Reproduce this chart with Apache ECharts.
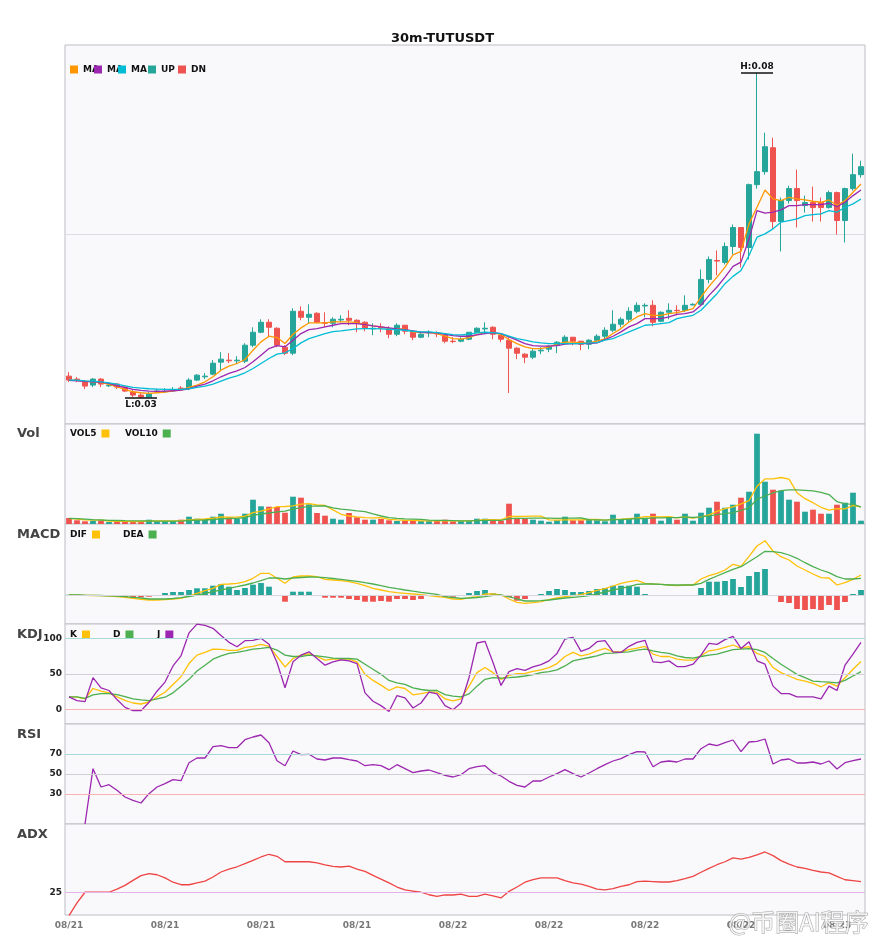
<!DOCTYPE html>
<html>
<head>
<meta charset="UTF-8">
<title>30m-TUTUSDT</title>
<script src="https://cdn.jsdelivr.net/npm/echarts@6.0.0/dist/echarts.min.js"></script>
<style>
  html, body { margin: 0; padding: 0; background: #fff; }
  #main { width: 885px; height: 950px; }
</style>
</head>
<body>
<div id="main"></div>
<script>
// ---- price data (30m candles) ----
var openP = [
  0.0357, 0.03525, 0.0348, 0.03435, 0.03525, 0.03425, 0.0345, 0.03405, 0.0333, 0.03285,
  0.03255, 0.03335, 0.03335, 0.0335, 0.0339, 0.0339, 0.0351, 0.0356, 0.036, 0.0378,
  0.0381, 0.038, 0.03795, 0.04035, 0.0423, 0.0438, 0.0429, 0.04005, 0.03915, 0.04545,
  0.04455, 0.04515, 0.04375, 0.04365, 0.04415, 0.0444, 0.0441, 0.0438, 0.0428, 0.04305,
  0.04275, 0.042, 0.04335, 0.0423, 0.04155, 0.0422, 0.04215, 0.04185, 0.04095, 0.04095,
  0.04125, 0.0423, 0.0428, 0.04305, 0.04185, 0.0411, 0.0399, 0.039, 0.03855, 0.0395,
  0.03975, 0.04035, 0.0408, 0.04155, 0.04095, 0.0405, 0.0411, 0.0417, 0.0426, 0.0435,
  0.04425, 0.04545, 0.04625, 0.04635, 0.04395, 0.0453, 0.0456, 0.0456, 0.0464, 0.0465,
  0.05025, 0.0531, 0.0528, 0.0552, 0.05805, 0.05505, 0.0645, 0.06645, 0.07005, 0.05895,
  0.0621, 0.0639, 0.06135, 0.0618, 0.0618, 0.06105, 0.0633, 0.0591, 0.0639, 0.066
];
var closeP = [
  0.0351, 0.0351, 0.0342, 0.03525, 0.0345, 0.03435, 0.03405, 0.03345, 0.03285, 0.03255,
  0.033, 0.03345, 0.0334, 0.0336, 0.0338, 0.0351, 0.03585, 0.0357, 0.03765, 0.03825,
  0.038, 0.0381, 0.04035, 0.0423, 0.0438, 0.04305, 0.04035, 0.03915, 0.04545, 0.04455,
  0.045, 0.0438, 0.04365, 0.04425, 0.04425, 0.0441, 0.04365, 0.0429, 0.0429, 0.04295,
  0.042, 0.04335, 0.04245, 0.04155, 0.042, 0.0423, 0.04205, 0.04095, 0.0409, 0.04125,
  0.0423, 0.0429, 0.0429, 0.042, 0.04125, 0.0399, 0.03915, 0.03855, 0.03945, 0.0396,
  0.0402, 0.0408, 0.04155, 0.04095, 0.0405, 0.0411, 0.0417, 0.0426, 0.0435, 0.04425,
  0.04545, 0.04635, 0.04635, 0.0438, 0.0453, 0.0456, 0.04555, 0.04635, 0.0465, 0.05025,
  0.05325, 0.053, 0.0552, 0.05805, 0.05505, 0.0645, 0.06645, 0.0702, 0.05895, 0.0621,
  0.0639, 0.0621, 0.0618, 0.06105, 0.06105, 0.0633, 0.0591, 0.0639, 0.066, 0.0672
];
var lowP = [
  0.0348, 0.0348, 0.03375, 0.03405, 0.03405, 0.03405, 0.03375, 0.0333, 0.03255, 0.0324,
  0.03255, 0.03315, 0.03315, 0.03335, 0.0336, 0.0336, 0.03495, 0.03525, 0.03585, 0.0366,
  0.03765, 0.0375, 0.03765, 0.04005, 0.04215, 0.04155, 0.04005, 0.03885, 0.03885, 0.0441,
  0.04365, 0.04365, 0.04305, 0.04305, 0.0438, 0.04335, 0.0423, 0.04245, 0.04185, 0.0423,
  0.0414, 0.0417, 0.042, 0.0411, 0.0414, 0.04155, 0.04155, 0.04065, 0.04065, 0.0408,
  0.0411, 0.04215, 0.04215, 0.04125, 0.0408, 0.03315, 0.03825, 0.03765, 0.03825, 0.039,
  0.0393, 0.03915, 0.0405, 0.04035, 0.0396, 0.03975, 0.0408, 0.0411, 0.0423, 0.04305,
  0.0438, 0.04515, 0.04455, 0.0432, 0.0438, 0.04425, 0.04485, 0.0453, 0.04635, 0.04635,
  0.04965, 0.05085, 0.0525, 0.054, 0.05205, 0.05325, 0.0639, 0.066, 0.0579, 0.05445,
  0.06165, 0.05805, 0.0603, 0.05895, 0.05895, 0.0609, 0.057, 0.0558, 0.0636, 0.06555
];
var highP = [
  0.0363, 0.03555, 0.0351, 0.0354, 0.0354, 0.0348, 0.03465, 0.0342, 0.0336, 0.03315,
  0.0333, 0.03375, 0.0339, 0.03405, 0.0342, 0.0354, 0.036, 0.03615, 0.0381, 0.0393,
  0.03915, 0.0387, 0.04065, 0.04305, 0.04425, 0.04425, 0.04305, 0.04035, 0.0459, 0.0462,
  0.0465, 0.0453, 0.0453, 0.04455, 0.04485, 0.0456, 0.04425, 0.04395, 0.04365, 0.04365,
  0.0432, 0.04365, 0.04335, 0.0426, 0.0423, 0.0426, 0.04245, 0.042, 0.04155, 0.04155,
  0.0423, 0.04305, 0.0438, 0.0432, 0.04215, 0.04155, 0.04005, 0.03915, 0.03975, 0.04005,
  0.04035, 0.04095, 0.04185, 0.04155, 0.04095, 0.04125, 0.042, 0.04305, 0.0456, 0.04455,
  0.04605, 0.0468, 0.04665, 0.0471, 0.04545, 0.04665, 0.04635, 0.04785, 0.04665, 0.05175,
  0.0537, 0.0546, 0.0558, 0.0585, 0.05805, 0.06465, 0.0813, 0.0723, 0.07155, 0.06255,
  0.06435, 0.06675, 0.06285, 0.0642, 0.06255, 0.0636, 0.06345, 0.06405, 0.06915, 0.0681
];
var ma5 = [
  0.0351, 0.03505, 0.03495, 0.03485, 0.03475, 0.03445, 0.0341, 0.0337, 0.03335, 0.0332,
  0.0331, 0.0332, 0.0333, 0.0335, 0.0336, 0.034, 0.03435, 0.03485, 0.0356, 0.0366,
  0.0372, 0.0376, 0.0382, 0.0396, 0.04085, 0.0417, 0.0415, 0.0406, 0.042, 0.04295,
  0.0437, 0.0437, 0.0437, 0.04385, 0.04385, 0.04385, 0.04375, 0.04345, 0.04325, 0.0431,
  0.04285, 0.0428, 0.04275, 0.04235, 0.04225, 0.04225, 0.0421, 0.0417, 0.04135, 0.04125,
  0.0415, 0.04195, 0.04225, 0.04225, 0.04195, 0.0412, 0.0406, 0.0401, 0.03985, 0.03985,
  0.0401, 0.0405, 0.0408, 0.0408, 0.0407, 0.0407, 0.04095, 0.0413, 0.0421, 0.04285,
  0.04385, 0.0446, 0.0451, 0.04485, 0.04485, 0.0451, 0.04525, 0.0455, 0.04585, 0.0476,
  0.0492, 0.0506, 0.0521, 0.05395, 0.05445, 0.0586, 0.0611, 0.0637, 0.06235, 0.0621,
  0.0626, 0.06235, 0.0622, 0.062, 0.06185, 0.0622, 0.06135, 0.0621, 0.06335, 0.0646
];
var ma10 = [
  0.03505, 0.035, 0.0349, 0.03485, 0.0348, 0.0346, 0.03425, 0.034, 0.0337, 0.03355,
  0.03345, 0.0334, 0.03345, 0.0335, 0.0336, 0.0338, 0.0342, 0.0345, 0.035, 0.0356,
  0.0361, 0.0365, 0.037, 0.03785, 0.03885, 0.03985, 0.0403, 0.0401, 0.0411, 0.0421,
  0.0427, 0.04285, 0.0431, 0.04335, 0.0436, 0.0436, 0.0436, 0.04345, 0.04325, 0.0431,
  0.04295, 0.0428, 0.0427, 0.0425, 0.0423, 0.04225, 0.0422, 0.042, 0.0418, 0.0417,
  0.0417, 0.0419, 0.0421, 0.04225, 0.0421, 0.0416, 0.0411, 0.0406, 0.0403, 0.0402,
  0.0402, 0.0403, 0.0405, 0.0406, 0.0406, 0.0406, 0.0407, 0.0412, 0.0417, 0.04235,
  0.0431, 0.0436, 0.04435, 0.04435, 0.04435, 0.0446, 0.045, 0.0451, 0.04535, 0.04635,
  0.04785, 0.0491, 0.0506, 0.0522, 0.05285, 0.05635, 0.0606, 0.0602, 0.06035, 0.0607,
  0.06135, 0.06135, 0.0615, 0.0615, 0.0615, 0.0617, 0.0612, 0.06185, 0.06285, 0.0637
];
var ma20 = [
  0.0351, 0.0351, 0.035, 0.03495, 0.03485, 0.0347, 0.0345, 0.03425, 0.034, 0.0339,
  0.0338, 0.03375, 0.0337, 0.0337, 0.0337, 0.0338, 0.034, 0.0342, 0.0345, 0.03495,
  0.0354, 0.03575, 0.0362, 0.03685, 0.0376, 0.03835, 0.039, 0.0392, 0.03985, 0.0407,
  0.04135, 0.0417, 0.0421, 0.0424, 0.0425, 0.04265, 0.0428, 0.04285, 0.04285, 0.0428,
  0.04275, 0.0427, 0.0426, 0.04245, 0.04235, 0.04235, 0.04225, 0.0421, 0.04195, 0.0419,
  0.042, 0.0422, 0.0423, 0.04225, 0.0421, 0.0417, 0.04135, 0.0411, 0.04085, 0.0407,
  0.0406, 0.0406, 0.0406, 0.0406, 0.0406, 0.0407, 0.04075, 0.0411, 0.04135, 0.04185,
  0.04235, 0.04285, 0.04335, 0.04345, 0.0436, 0.04375, 0.04435, 0.0446, 0.04485, 0.0456,
  0.04685, 0.0481, 0.0496, 0.0507, 0.0516, 0.05385, 0.0566, 0.0571, 0.05785, 0.05885,
  0.0591, 0.05935, 0.05985, 0.06, 0.0601, 0.0606, 0.06035, 0.0611, 0.0616, 0.06235
];

// ---- volume ----
var volume = [
  6, 3.7, 2.7, 3.3, 3.3, 2, 2.3, 2.7, 2.3, 3,
  4.3, 2.7, 2.7, 3, 4.3, 7.3, 5.3, 5, 7.3, 10.3,
  6.7, 5.3, 10.3, 24.3, 17.7, 17.3, 17, 11.3, 27.3, 26.3,
  19.7, 11, 8.3, 5.3, 4.3, 11, 6.7, 4.3, 4.3, 5,
  3.7, 3, 3, 3.3, 3, 3, 3, 4.3, 2.7, 3,
  3, 5.3, 5.3, 3.3, 3.3, 20.3, 5, 6, 4.3, 3.3,
  2.3, 3.7, 7.3, 3.7, 3.7, 4.3, 3.7, 2.7, 9.3, 4.3,
  6, 10.3, 6.3, 10.3, 3.3, 6.7, 4.3, 10.3, 3.3, 11.3,
  16.3, 22.3, 16.3, 19.3, 26.3, 32.3, 90.3, 42.3, 34.3, 33.3,
  24.3, 22.3, 12.3, 14.3, 10.3, 10.3, 19.3, 21.3, 31.3, 3.3
];
var vol5 = [
  5.7, 4.9, 4.2, 3.9, 3.8, 3.0, 2.7, 2.7, 2.5, 2.5,
  2.9, 3.0, 3.0, 3.1, 3.4, 4.0, 4.5, 5.0, 5.8, 7.0,
  6.9, 6.9, 7.9, 11.4, 12.9, 15.0, 17.3, 17.5, 18.1, 19.8,
  20.3, 19.1, 18.5, 14.1, 9.7, 8.0, 7.1, 6.3, 6.1, 6.3,
  4.7, 4.1, 3.7, 3.6, 3.2, 3.1, 3.1, 3.3, 3.2, 3.2,
  3.2, 3.7, 4.3, 4.3, 4.2, 7.5, 7.5, 7.6, 7.8, 7.8,
  4.2, 3.9, 4.2, 4.1, 4.1, 4.5, 4.5, 3.8, 4.7, 4.9,
  5.4, 6.1, 7.3, 7.4, 7.2, 7.4, 6.2, 7.0, 5.8, 7.2,
  9.1, 12.7, 15.4, 17.1, 20.1, 23.3, 37.7, 45.1, 45.1, 46.5,
  44.9, 31.3, 25.3, 21.3, 16.7, 13.9, 15.3, 15.1, 18.5, 17.1
];
var vol10 = [
  5.7, 5.3, 4.8, 4.3, 4.0, 3.7, 3.5, 3.3, 3.2, 3.1,
  3.0, 2.9, 2.9, 2.8, 2.9, 3.5, 3.8, 4.0, 4.5, 5.2,
  5.5, 5.7, 6.5, 8.6, 10.0, 11.0, 12.1, 12.8, 14.8, 16.4,
  17.7, 18.2, 18.0, 16.1, 14.8, 14.2, 13.1, 12.4, 10.1, 8.0,
  6.4, 5.6, 5.1, 4.9, 4.7, 3.9, 3.6, 3.6, 3.4, 3.2,
  3.1, 3.4, 3.6, 3.6, 3.6, 5.4, 5.6, 5.7, 5.9, 5.9,
  5.8, 5.7, 5.9, 5.9, 6.0, 4.4, 4.2, 3.9, 4.4, 4.5,
  4.9, 5.5, 5.4, 6.1, 6.1, 6.3, 6.4, 7.1, 6.5, 7.2,
  8.2, 9.4, 10.4, 11.3, 13.6, 16.2, 24.8, 28.0, 31.1, 33.3,
  34.1, 34.1, 33.7, 33.2, 31.6, 29.4, 22.3, 20.2, 19.9, 16.9
];

// ---- MACD ----
var macdHist = [
  0.3, 0.2, 0, -0.3, -0.5, -1, -1, -2, -2.3, -2.3,
  -1.7, -0.5, 2, 3, 3, 5, 6.7, 6.7, 9.3, 10.7,
  8.3, 5, 7, 10.3, 12, 8.3, 0, -6.7, 3.3, 3.3,
  3.3, 0, -2.7, -2.7, -2.7, -4, -5, -6.7, -6.7, -6,
  -6.7, -4, -4, -5, -4, -0.7, -1.7, -1.7, -1.7, -0.7,
  2, 4, 5, 1.7, 0, -2.3, -5.7, -4, -1, 1,
  4, 6, 5, 3, 3, 4, 6, 7, 9.3, 9.3,
  9.3, 8.3, 1, 0, 0, 0, -0.7, 0, 0, 7,
  13.3, 13.3, 14, 16, 8, 19, 23, 26, 0, -7,
  -8, -14, -15, -14, -15, -10, -15, -7, 1, 5
];
var dif = [
  0, 0, -0.3, -0.5, -0.7, -1, -1.7, -2.3, -3.3, -4.3,
  -5, -5, -4.7, -4, -3.3, -1, 1.7, 4.3, 6.7, 10.7,
  11, 11.7, 13.3, 16.7, 21.7, 21.7, 16.7, 11.7, 18, 19,
  19, 18.3, 15.7, 15, 14.3, 13.3, 11.7, 9.3, 6.7, 5,
  3.3, 2.3, 1.7, 1, 0.3, -0.7, -1.7, -2.3, -4, -4.3,
  -2.7, -1.7, 1, 1, 0, -4, -7.3, -8.3, -7.7, -6.7,
  -4.7, -3, -1.7, -0.7, 0.3, 2.3, 4.7, 6.3, 9, 11.7,
  13.3, 14.7, 11.7, 11, 10.7, 10, 9.3, 10, 10, 16,
  19.3, 21.7, 25, 30.7, 28.7, 38.7, 49, 54.3, 44, 38.3,
  35, 29, 25, 21, 17.3, 17, 10, 12.3, 15.7, 20
];
var dea = [
  0, 0, -0.2, -0.3, -0.5, -0.8, -1.2, -1.7, -2.3, -3,
  -4, -4, -4, -3.5, -2.7, -1.5, 0, 1.5, 3.3, 5,
  6.7, 8.3, 10, 12, 14.3, 17, 17, 16, 17, 17.5,
  18, 17.8, 17.3, 16.5, 15.7, 14.7, 13.7, 12.3, 11, 9.3,
  7.7, 6.3, 5, 3.8, 2.7, 1.7, 0.7, -1.7, -2.5, -3.3,
  -3, -2.5, -1.7, -0.3, 0, -1.7, -4, -6, -6, -5.7,
  -5, -4, -3, -2.3, -1.7, -0.7, 1, 3, 5, 6.7,
  8.3, 10.7, 11, 11, 10.7, 10, 10, 10, 10, 11.7,
  15.7, 19, 22.3, 25.7, 28.3, 33.3, 38.3, 43.7, 43.3, 42.3,
  40, 36.7, 32.3, 28.3, 25, 22.3, 18.3, 16, 16, 16.7
];

// ---- KDJ ----
var kLine = [
  17.9, 17.5, 15.1, 29.7, 25.9, 23.6, 17.9, 13.2, 9.4, 8,
  10.8, 17.9, 24.5, 35.4, 46.2, 64.6, 76.4, 80.2, 84.9, 84.4,
  83, 83, 87.3, 88.7, 91.5, 88.7, 74.5, 59.9, 71.7, 76.4,
  78.3, 74.5, 69.3, 70.8, 70.8, 70.8, 67, 49.5, 41, 34.4,
  26.9, 32.1, 29.7, 20.8, 22.6, 24.5, 24.5, 15.1, 12.3, 15.1,
  33, 51.9, 59, 51.9, 42.5, 48.1, 50.5, 50.9, 53.8, 55.7,
  59, 64.6, 74.5, 80.2, 75.5, 77.8, 82.5, 85.8, 81.1, 81.1,
  84, 86.3, 88.7, 77.8, 74.5, 74.5, 70.8, 69.3, 69.3, 75.5,
  82.5, 84, 87.3, 90.6, 85.8, 88.2, 78.8, 74.5, 59, 51.9,
  47.2, 42.5, 40.1, 36.8, 32.1, 37.7, 33, 44.8, 56.6, 67.5
];
var dLine = [
  17.9, 17.9, 16, 20.8, 22.6, 22.6, 21.2, 18.4, 15.1, 13.7,
  12.7, 15.1, 17.5, 23.6, 33, 42.5, 54.2, 62.3, 70.8, 75.5,
  78.8, 80.2, 82.5, 84.9, 85.8, 87.3, 83.5, 76.4, 74.5, 74.5,
  76.4, 75.5, 74, 72.2, 71.7, 71.7, 70.8, 63.7, 56.6, 49.5,
  41, 37.7, 35.4, 30.7, 28.3, 26.9, 26.9, 21.2, 18.9, 17.9,
  22.2, 33, 42.5, 44.8, 44.3, 44.8, 45.8, 47.2, 49.1, 51.9,
  53.3, 55.7, 61.3, 68.4, 70.8, 73.1, 75.5, 78.8, 79.2, 80.2,
  81.1, 83.5, 84.9, 82.5, 80.2, 78.8, 75.5, 73.1, 72.2, 74.5,
  76.4, 77.8, 81.1, 84, 84.9, 85.4, 84, 80.2, 71.7, 63.7,
  56.6, 49.5, 44.8, 40.1, 39.2, 38.7, 37.7, 41, 47.2, 53.3
];
var jLine = [
  17.9, 12.7, 11.3, 44.8, 30.7, 26.9, 14.2, 3.3, -1.4, -1.4,
  10.4, 25.9, 38.7, 61.3, 75.5, 107.5, 119.8, 118, 114, 103.8,
  94.3, 88.2, 96.7, 97.2, 100, 91.5, 66, 30.7, 67, 76.4,
  81.1, 71.7, 62.3, 67, 69.8, 68.4, 64.6, 23.6, 11.8, 5.7,
  -2.4, 19.8, 16.5, 2.4, 9.4, 24.5, 22.2, 5.7, 0, 9.4,
  44.8, 93.4, 95.8, 66, 34, 53.3, 57.5, 55.2, 59.9, 63.2,
  68.4, 78.8, 99, 101.4, 81.6, 85.8, 95.3, 96.7, 81.1, 80.2,
  88.7, 94.3, 97.2, 67, 66, 68.4, 60.4, 60.4, 63.7, 76.4,
  92.9, 91.5, 98.1, 102.8, 85.8, 95.3, 68.4, 63.7, 33, 22.6,
  22.6, 17.9, 17.9, 17.9, 15.1, 33, 26.9, 62.3, 77.8, 94.3
];

// ---- RSI / ADX ----
var rsi = [
  null, null, 0, 55.3, 37, 39.3, 33.7, 27, 23.7, 21,
  30.3, 37, 40.3, 44.3, 43.3, 61.3, 66, 66, 77.3, 78.3,
  76.3, 76.3, 84.3, 87, 89, 81.3, 63.3, 58.3, 73, 69.3,
  69.7, 65, 64, 66, 66, 64.3, 63, 58.3, 59.3, 58.3,
  54.3, 59.3, 55.3, 51.3, 53, 54, 51.3, 48.7, 47, 49.3,
  55.3, 57.3, 58.3, 51.3, 48, 42.7, 38.7, 37, 43, 43,
  47, 50.3, 54.3, 50.3, 47, 51, 55.3, 59.3, 63, 65.3,
  69.3, 72.3, 72, 57.3, 62, 63, 62, 65, 65, 75.3,
  80, 78.3, 81.3, 84, 72.3, 82, 82.7, 85, 60, 64,
  65, 61, 61, 62, 60, 63, 55, 61.3, 63.3, 65
];
var adx = [
  14.7, 20.3, 25, 25, 25, 25, 26.4, 28, 30.2, 32.3,
  33.2, 32.7, 31.3, 29.4, 28.3, 28.3, 29.1, 29.9, 31.7, 33.9,
  35.2, 36.2, 37.6, 39, 40.5, 41.7, 40.8, 38.4, 38.4, 38.4,
  38.4, 37.9, 37, 36.4, 36.1, 36.5, 35.2, 34.2, 32.4, 30.8,
  29.1, 27.3, 26, 25.5, 25, 23.9, 23.2, 23.8, 23.8, 24.2,
  23.2, 23.2, 24.2, 23.4, 22.5, 25.4, 27.3, 29.4, 30.5, 31.3,
  31.3, 31.3, 30.1, 29.1, 28.6, 27.6, 26.4, 26, 26.6, 27.6,
  28.3, 29.7, 29.9, 29.7, 29.5, 29.5, 30.1, 31, 32, 33.8,
  35.5, 37.1, 38.4, 40.1, 39.6, 40.3, 41.4, 42.7, 41.1, 38.9,
  37.4, 36.1, 35.5, 34.6, 33.9, 33.5, 32, 30.5, 30.1, 29.7
];

// 30m bars starting 08/21 00:00
var times = [];
for (var i = 0; i < openP.length; i++) {
  var d = new Date(2024, 7, 21, 0, 0);
  d.setMinutes(d.getMinutes() + i * 30);
  var mm = ('0' + (d.getMonth() + 1)).slice(-2);
  var dd = ('0' + d.getDate()).slice(-2);
  var hh = ('0' + d.getHours()).slice(-2);
  var mi = ('0' + d.getMinutes()).slice(-2);
  times.push(mm + '/' + dd + ' ' + hh + ':' + mi);
}

var UP = '#26a69a', DN = '#ef5350';
var FONT = 'DejaVu Sans';

var candles = [];
var volBars = [];
var macdBars = [];
for (var i = 0; i < openP.length; i++) {
  candles.push([openP[i], closeP[i], lowP[i], highP[i]]);
  volBars.push({ value: volume[i], itemStyle: { color: closeP[i] >= openP[i] ? UP : DN } });
  macdBars.push({ value: macdHist[i], itemStyle: { color: macdHist[i] >= 0 ? UP : DN } });
}

// highest high / lowest low markers
var hiIdx = 0, loIdx = 0;
for (var i = 1; i < highP.length; i++) {
  if (highP[i] > highP[hiIdx]) hiIdx = i;
  if (lowP[i] < lowP[loIdx]) loIdx = i;
}

var chart = echarts.init(document.getElementById('main'));

var gridBase = { show: true, left: 65, right: 20, backgroundColor: '#f9f9fb', borderColor: '#bdbdc5', borderWidth: 1 };
var grids = [
  Object.assign({ top: 45, height: 379 }, gridBase),
  Object.assign({ top: 424, height: 100 }, gridBase),
  Object.assign({ top: 524, height: 100 }, gridBase),
  Object.assign({ top: 624, height: 100 }, gridBase),
  Object.assign({ top: 724, height: 100 }, gridBase),
  Object.assign({ top: 824, height: 91 }, gridBase)
];

var xAxes = [];
for (var g = 0; g < 6; g++) {
  xAxes.push({
    type: 'category', gridIndex: g, data: times, boundaryGap: true,
    axisLine: { show: false }, axisTick: { show: false }, splitLine: { show: false },
    axisLabel: {
      show: g === 5, interval: 11, margin: 6,
      color: '#777', fontSize: 9, fontWeight: 'bold', fontFamily: FONT,
      formatter: function (v) { return v.slice(0, 5); }
    }
  });
}

function levelLabel(levels) {
  return function (v) { return levels.indexOf(v) >= 0 ? String(v) : ''; };
}
var yLabel = { color: '#222', fontSize: 9, fontWeight: 'bold', fontFamily: FONT, margin: 3 };
var noAxis = { axisLine: { show: false }, axisTick: { show: false } };

var yAxes = [
  Object.assign({ gridIndex: 0, min: 0.0285, max: 0.0855, interval: 0.0285,
    axisLabel: { show: false },
    splitLine: { show: true, showMinLine: false, showMaxLine: false, lineStyle: { color: '#dcdce2' } } }, noAxis),
  Object.assign({ gridIndex: 1, min: 0, max: 100, axisLabel: { show: false }, splitLine: { show: false } }, noAxis),
  Object.assign({ gridIndex: 2, min: -29, max: 71, axisLabel: { show: false }, splitLine: { show: false } }, noAxis),
  Object.assign({ gridIndex: 3, min: -20, max: 120, interval: 10, splitLine: { show: false },
    axisLabel: Object.assign({ formatter: levelLabel([0, 50, 100]) }, yLabel) }, noAxis),
  Object.assign({ gridIndex: 4, min: 0, max: 100, interval: 10, splitLine: { show: false },
    axisLabel: Object.assign({ formatter: levelLabel([30, 50, 70]) }, yLabel) }, noAxis),
  Object.assign({ gridIndex: 5, min: 15, max: 55, interval: 5, splitLine: { show: false },
    axisLabel: Object.assign({ formatter: levelLabel([25]) }, yLabel) }, noAxis)
];

function levels(list) {
  return {
    silent: true, symbol: ['none', 'none'], label: { show: false }, animation: false,
    data: list.map(function (l) { return { yAxis: l[0], lineStyle: { color: l[1], width: 1, type: 'solid' } }; })
  };
}
function line(name, data, color, xi, extra) {
  return Object.assign({
    name: name, type: 'line', data: data, xAxisIndex: xi, yAxisIndex: xi,
    symbol: 'none', smooth: false, lineStyle: { color: color, width: 1.3 }, itemStyle: { color: color }
  }, extra || {});
}

var markTxt = { fontSize: 9, fontWeight: 'bold', color: '#111', fontFamily: FONT };

var series = [
  {
    name: 'K线', type: 'candlestick', data: candles, xAxisIndex: 0, yAxisIndex: 0, barWidth: '72%',
    itemStyle: { color: UP, color0: DN, borderColor: UP, borderColor0: DN, borderWidth: 1 },
    markLine: {
      silent: true, symbol: ['none', 'none'], animation: false,
      lineStyle: { color: '#111', width: 1.5, type: 'solid' },
      data: [
        [
          { coord: [hiIdx - 2, highP[hiIdx]], label: Object.assign({ position: 'insideMiddleTop', distance: 2, formatter: 'H:' + highP[hiIdx].toFixed(2) }, markTxt) },
          { coord: [hiIdx + 2, highP[hiIdx]] }
        ],
        [
          { coord: [loIdx - 2, lowP[loIdx]], label: Object.assign({ position: 'insideMiddleBottom', distance: 2, formatter: 'L:' + lowP[loIdx].toFixed(2) }, markTxt) },
          { coord: [loIdx + 2, lowP[loIdx]] }
        ]
      ]
    }
  },
  line('MA5', ma5, '#ff9800', 0),
  line('MA10', ma10, '#9c27b0', 0),
  line('MA20', ma20, '#00bcd4', 0),
  { name: 'UP', type: 'bar', data: [], xAxisIndex: 0, yAxisIndex: 0, itemStyle: { color: UP } },
  { name: 'DN', type: 'bar', data: [], xAxisIndex: 0, yAxisIndex: 0, itemStyle: { color: DN } },

  { name: 'Vol', type: 'bar', data: volBars, xAxisIndex: 1, yAxisIndex: 1, barWidth: '72%' },
  line('VOL5', vol5, '#ffc107', 1),
  line('VOL10', vol10, '#4caf50', 1),

  { name: 'MACD', type: 'bar', data: macdBars, xAxisIndex: 2, yAxisIndex: 2, barWidth: '72%',
    markLine: levels([[0, '#d6d6dc']]) },
  line('DIF', dif, '#ffc107', 2),
  line('DEA', dea, '#4caf50', 2),

  line('K', kLine, '#ffc107', 3, { markLine: levels([[100, '#a9dada'], [50, '#cfcfd5'], [0, '#f7b4b4']]) }),
  line('D', dLine, '#4caf50', 3),
  line('J', jLine, '#9c27b0', 3),

  line('RSI', rsi, '#9c27b0', 4, { markLine: levels([[70, '#a9dada'], [50, '#cfcfd5'], [30, '#f7b4b4']]) }),

  line('ADX', adx, '#ef4444', 5, { markLine: levels([[25, '#e2b4ea']]) })
];

var legendText = { fontSize: 9, fontWeight: 'bold', color: '#111', fontFamily: FONT };
function legendItem(name, left, top, opts) {
  return Object.assign({
    data: [name], left: left, top: top, padding: 0, icon: 'rect',
    itemWidth: 8, itemHeight: 8, selectedMode: false,
    textStyle: Object.assign({}, legendText)
  }, opts || {});
}
function rightItem(name, left, top, w) {
  return legendItem(name, left, top, { align: 'right', textStyle: Object.assign({ width: w }, legendText) });
}
var maFmt = { formatter: function () { return 'MA'; } };

var legends = [
  legendItem('MA5', 70, 65, maFmt),
  legendItem('MA10', 94, 65, maFmt),
  legendItem('MA20', 118, 65, maFmt),
  legendItem('UP', 148, 65),
  legendItem('DN', 178, 65),
  rightItem('VOL5', 70, 429, 26),
  rightItem('VOL10', 125, 429, 33),
  rightItem('DIF', 70, 530, 21),
  rightItem('DEA', 123, 530, 24),
  rightItem('K', 70, 630, 13),
  rightItem('D', 113, 630, 13),
  rightItem('J', 157, 630, 13)
];

var panelLabels = [['Vol', 427], ['MACD', 528], ['KDJ', 628], ['RSI', 728], ['ADX', 828]];
var graphics = panelLabels.map(function (p) {
  return { type: 'text', left: 17, top: p[1], silent: true,
    style: { text: p[0], font: 'bold 13px "DejaVu Sans"', fill: '#444' } };
});
graphics.push({
  type: 'text', left: 728, top: 909, silent: true, z: 100,
  style: { text: '@币圈AI程序', font: '24px "Noto Sans CJK SC"', fill: 'rgba(255,255,255,0.75)',
    stroke: 'rgba(130,130,130,0.7)', lineWidth: 1 }
});

chart.setOption({
  animation: false,
  backgroundColor: '#fff',
  title: { text: '30m-TUTUSDT', left: 'center', top: 27,
    textStyle: { fontSize: 13, fontWeight: 'bold', color: '#111', fontFamily: FONT } },
  grid: grids,
  xAxis: xAxes,
  yAxis: yAxes,
  legend: legends,
  graphic: graphics,
  series: series
});
</script>
</body>
</html>
